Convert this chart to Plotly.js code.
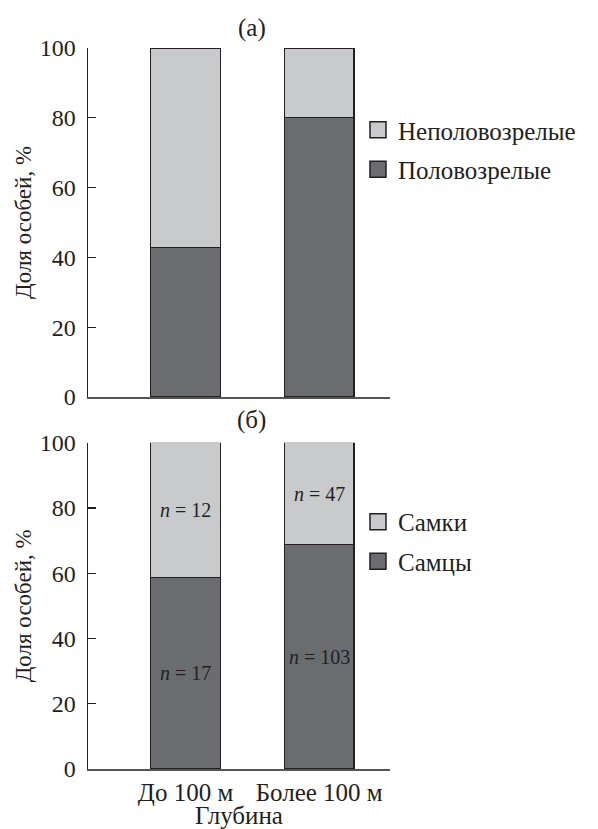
<!DOCTYPE html>
<html><head><meta charset="utf-8">
<script src="https://cdn.plot.ly/plotly-3.0.1.min.js"></script>
<style>html,body{margin:0;padding:0;background:#fff}</style>
</head><body>
<div id="chart" style="width:598px;height:829px"></div>
<script>
const depth = ['До 100 м', 'Более 100 м'];
const maturePct = [42.9, 80.0];
const immaturePct = [57.1, 20.0];
const malesPct = [58.6, 68.7];
const femalesPct = [41.4, 31.3];
const malesN = [17, 103];
const femalesN = [12, 47];

const DARK = '#6b6c70', LIGHT = '#c9cacc', EDGE = '#231f20', TXT = '#231f20';
const FONT = '"Liberation Serif", "Times New Roman", serif';

function bar(name, y, color, xa, ya) {
  return {
    type: 'bar', name: name, x: depth, y: y, xaxis: xa, yaxis: ya,
    marker: {color: color, line: {color: EDGE, width: 1.2}},
    showlegend: false, hoverinfo: 'skip'
  };
}
// legend-only entries (no data) so the legend swatch can be larger
function key(name, color, xa, ya, legend, rank) {
  return {
    type: 'scatter', mode: 'markers', name: name, x: [null], y: [null], xaxis: xa, yaxis: ya,
    marker: {symbol: 'square', size: 18, color: color, line: {color: EDGE, width: 1.5}},
    legend: legend, legendgroup: name, legendrank: rank, hoverinfo: 'skip'
  };
}

const data = [
  bar('Половозрелые', maturePct, DARK, 'x', 'y'),
  bar('Неполовозрелые', immaturePct, LIGHT, 'x', 'y'),
  bar('Самцы', malesPct, DARK, 'x2', 'y2'),
  bar('Самки', femalesPct, LIGHT, 'x2', 'y2'),
  key('Неполовозрелые', LIGHT, 'x', 'y', 'legend', 1),
  key('Половозрелые', DARK, 'x', 'y', 'legend', 2),
  key('Самки', LIGHT, 'x2', 'y2', 'legend2', 1),
  key('Самцы', DARK, 'x2', 'y2', 'legend2', 2)
];

const yax = (domain) => ({
  domain: domain, range: [0, 100], dtick: 20, showgrid: false, zeroline: false,
  showline: true, linecolor: EDGE, linewidth: 1.5,
  ticks: 'inside', ticklen: 8, tickwidth: 1.2, tickcolor: EDGE,
  ticklabelstandoff: 6,
  tickfont: {family: FONT, size: 24, color: TXT},
  title: {text: 'Доля особей, %', font: {family: FONT, size: 23, color: TXT}, standoff: 1},
  fixedrange: true
});
const xax = (anchor, labels) => ({
  anchor: anchor, type: 'category', range: [-0.73, 1.53], showgrid: false, zeroline: false,
  showline: true, linecolor: '#555', linewidth: 2, ticks: '',
  showticklabels: labels,
  tickfont: {family: FONT, size: 25, color: TXT},
  fixedrange: true
});

const annotations = [
  {text: '(а)', xref: 'paper', yref: 'paper', x: 0.543, y: 1.028, showarrow: false,
   xanchor: 'center', yanchor: 'middle', font: {family: FONT, size: 25, color: TXT}},
  {text: '(б)', xref: 'paper', yref: 'paper', x: 0.543, y: 0.484, showarrow: false,
   xanchor: 'center', yanchor: 'middle', font: {family: FONT, size: 25, color: TXT}}
];
depth.forEach((d, i) => {
  annotations.push({text: '<i>n</i> = ' + malesN[i], xref: 'x2', yref: 'y2', x: d, y: malesPct[i] / 2,
    showarrow: false, xanchor: 'center', yanchor: 'middle', font: {family: FONT, size: 20, color: TXT}});
  annotations.push({text: '<i>n</i> = ' + femalesN[i], xref: 'x2', yref: 'y2', x: d, y: malesPct[i] + femalesPct[i] / 2,
    showarrow: false, xanchor: 'center', yanchor: 'middle', font: {family: FONT, size: 20, color: TXT}});
});

const legendStyle = (y) => ({
  x: 0.894, y: y, xref: 'paper', yref: 'paper', xanchor: 'left', yanchor: 'top',
  traceorder: 'grouped', tracegroupgap: 4,
  font: {family: FONT, size: 25, color: TXT}, bgcolor: 'rgba(0,0,0,0)'
});

const layout = {
  width: 598, height: 829,
  margin: {l: 88, r: 208, t: 48, b: 60},
  paper_bgcolor: '#fff', plot_bgcolor: '#fff',
  barmode: 'stack', bargap: 0.48,
  font: {family: FONT, color: TXT},
  xaxis: xax('y', false),
  yaxis: yax([0.516, 1]),
  xaxis2: Object.assign(xax('y2', true), {
    title: {text: 'Глубина', font: {family: FONT, size: 25, color: TXT}, standoff: 0}
  }),
  yaxis2: Object.assign(yax([0, 0.4526]), {anchor: 'x2'}),
  legend: legendStyle(0.918),
  legend2: legendStyle(0.3745),
  annotations: annotations
};

Plotly.newPlot('chart', data, layout, {displayModeBar: false, staticPlot: true});
</script>
</body></html>
